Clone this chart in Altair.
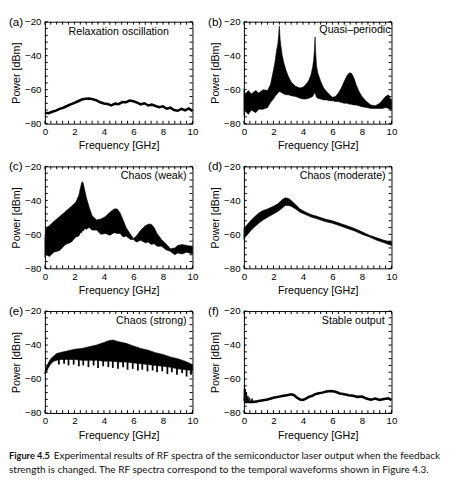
import altair as alt
import pandas as pd

# ---------------- data ----------------
A_f = [0, 0.25, 0.5, 0.75, 1.0, 1.25, 1.5, 1.75, 2.0, 2.25, 2.5, 2.75, 3.0, 3.25, 3.5, 3.75, 4.0, 4.25, 4.5, 4.75,
       5.0, 5.25, 5.5, 5.75, 6.0, 6.25, 6.5, 6.75, 7.0, 7.25, 7.5, 7.75, 8.0, 8.25, 8.5, 8.75, 9.0, 9.25, 9.5, 9.75, 10.0]
A_v = [-73.5, -73.8, -73.0, -72.3, -71.3, -70.6, -69.6, -68.6, -67.8, -66.8, -65.8, -65.3, -65.2, -65.6, -66.3, -67.4,
       -68.1, -68.4, -69.2, -68.2, -68.5, -67.2, -67.4, -66.4, -66.8, -67.6, -68.6, -68.0, -69.3, -68.8, -69.6, -70.3,
       -69.8, -71.2, -70.6, -72.0, -72.4, -71.3, -72.1, -71.0, -72.6]

B_f = [0, 0.1, 0.3, 0.5, 0.8, 1.0, 1.3, 1.6, 1.8, 2.0, 2.1, 2.2, 2.3, 2.35, 2.4, 2.45, 2.5, 2.6, 2.7, 2.85, 3.0, 3.2,
       3.5, 3.8, 4.0, 4.2, 4.4, 4.55, 4.65, 4.72, 4.78, 4.82, 4.86, 4.92, 5.0, 5.2, 5.4, 5.6, 5.8, 6.0, 6.2, 6.4, 6.6,
       6.8, 7.0, 7.15, 7.3, 7.45, 7.6, 7.8, 8.0, 8.3, 8.6, 8.9, 9.2, 9.4, 9.6, 9.8, 9.9, 10.0]
B_hi = [-59.5, -62.5, -60.5, -62.5, -60.5, -62, -60, -60.5, -57, -48.5, -44, -37.5, -33, -28, -22.5, -30, -34, -40,
        -44, -48.5, -52, -55.5, -58, -59, -58.5, -57, -54.5, -51, -47, -43, -36, -29, -38, -46, -50, -55, -59, -61,
        -63, -64.5, -64, -62, -59, -55, -51.5, -50, -50.5, -53, -57, -61, -64, -67, -69, -69.5, -68, -66, -64, -63,
        -65, -66]
B_lo = [-75, -72.5, -74.5, -72, -73.5, -71.5, -71.5, -70.5, -67.5, -65.5, -64, -63, -62, -61.5, -61, -61.2, -61.5,
        -62, -62.5, -63, -63, -63.5, -64, -65, -65.5, -65.5, -65, -64.5, -64, -63, -62, -62, -63, -64.5, -65, -65.5,
        -66, -66, -66.5, -66.5, -67, -67, -67.5, -68, -68, -68.5, -68.5, -69, -69, -69.5, -70, -70.5, -71, -71, -71,
        -71, -70.5, -71, -71.5, -72]

C_f = [0, 0.1, 0.3, 0.6, 1.0, 1.4, 1.8, 2.1, 2.3, 2.4, 2.5, 2.55, 2.6, 2.7, 2.8, 3.0, 3.2, 3.5, 3.8, 4.1, 4.4, 4.7,
       4.9, 5.1, 5.3, 5.5, 5.8, 6.0, 6.2, 6.5, 6.8, 7.0, 7.2, 7.4, 7.6, 7.9, 8.2, 8.5, 8.8, 9.0, 9.3, 9.6, 10.0]
C_hi = [-62, -56, -55, -52.5, -49.5, -46.5, -43.5, -41, -37, -33, -29.5, -29, -30, -34, -38, -44, -49, -51.5, -51,
        -49.5, -47, -45, -45, -47.5, -51.5, -56, -60, -62.5, -61, -57.5, -55, -54, -54, -56, -59.5, -63, -65.5, -68.5,
        -68, -66.5, -66, -66.5, -67]
C_lo = [-73.5, -72, -73, -70.5, -69.5, -66, -64.5, -61.5, -61, -59, -59, -57.5, -58, -56.5, -57, -56, -57.5, -57.5,
        -60, -59.5, -60.5, -59, -59.5, -59.5, -61.5, -61, -63, -63, -64.5, -63.5, -65, -64.5, -66, -65.5, -67, -67,
        -69, -70, -72, -71, -71.5, -70.5, -71.5]

D_f = [0, 0.1, 0.3, 0.5, 0.8, 1.0, 1.3, 1.6, 2.0, 2.3, 2.6, 2.8, 3.0, 3.2, 3.5, 3.8, 4.2, 4.6, 5.0, 5.5, 6.0, 6.5,
       7.0, 7.5, 8.0, 8.5, 9.0, 9.5, 10.0]
D_hi = [-57, -55.5, -53.5, -51.5, -49, -47.5, -46, -45, -43.5, -42, -39.5, -38.5, -38.8, -40, -42.5, -45, -47, -48.5,
        -49.5, -51, -52, -53.5, -55, -56.5, -58.5, -60.5, -62, -63.5, -64.5]
D_lo = [-63, -61.5, -59.5, -57.5, -55, -53.5, -51.5, -50, -48, -46.5, -44.5, -43, -43, -43.5, -45, -47, -48.5, -50,
        -51, -52.5, -53.5, -55, -56.5, -58, -60, -61.5, -63.5, -65, -66.5]

E_f = [0, 0.1, 0.2, 0.4, 0.6, 0.8, 1.0, 1.5, 2.0, 2.5, 3.0, 3.5, 4.0, 4.3, 4.6, 5.0, 5.5, 6.0, 6.5, 7.0, 7.5, 8.0,
       8.5, 9.0, 9.5, 10.0]
E_hi = [-56, -53, -51, -48, -46.5, -45, -44.5, -43.5, -42.5, -42, -41, -40, -38.5, -37.5, -37, -38, -39, -40.5, -42,
        -43, -44.5, -45.5, -47, -48, -49.5, -51.5]
E_lo = [-57, -56, -54, -51, -49.5, -49, -48.5, -48.5, -48.5, -49, -49, -49, -49.5, -49.5, -49.5, -50, -50, -50.5, -51,
        -51.5, -52, -52.5, -53, -54, -54.5, -55]
E_spike_f = [0.95, 1.3, 1.6, 1.95, 2.3, 2.6, 2.95, 3.3, 3.6, 3.95, 4.3, 4.6, 4.95, 5.3, 5.6, 5.95, 6.3, 6.6, 6.95,
             7.3, 7.6, 7.95, 8.3, 8.6, 8.95, 9.3, 9.6, 9.9]
E_spike_top = [-46, -46, -46, -46, -46.5, -46.5, -46.5, -46.5, -46.5, -47, -47, -47, -47, -47.5, -47.5, -47.5, -48,
               -48, -48.5, -49, -49, -49.5, -50, -50, -51, -51.5, -52, -52]
E_spike_bot = [-51.5, -51, -52, -51.5, -52.5, -52, -53, -52, -53.5, -52.5, -53, -53.5, -54, -53, -54.5, -54, -55,
               -54.5, -55.5, -55, -56, -55.5, -57, -56, -57.5, -56.5, -58.5, -57.5]

F_f = [0, 0.3, 0.6, 0.8, 1.0, 1.3, 1.6, 2.0, 2.3, 2.6, 2.9, 3.2, 3.4, 3.6, 3.8, 4.0, 4.2, 4.4, 4.6, 4.8, 5.0, 5.3,
       5.6, 5.9, 6.2, 6.5, 6.8, 7.1, 7.4, 7.7, 8.0, 8.3, 8.6, 8.9, 9.2, 9.5, 9.8, 10.0]
F_v = [-73.5, -73.5, -73.5, -73.3, -73, -72.5, -72, -71, -70.5, -70, -69.5, -69, -69.5, -71, -72, -72.3, -71.5, -70.5,
       -70, -69, -68.5, -68, -67.3, -67, -67.5, -68.5, -69, -69.5, -69.8, -70.5, -70.3, -71.5, -72.2, -71.5, -72.3,
       -71.8, -71.3, -72.5]
F_spike_f = [0, 0.04, 0.07, 0.1, 0.14, 0.18, 0.22, 0.27, 0.32, 0.38, 0.45, 0.5, 0.55, 0.6]
F_spike_v = [-73, -63, -73.5, -66, -73.5, -68, -73.5, -70, -73.5, -71, -73.5, -73.5, -71.5, -73.5]

X_TICKS = [0, 0.4, 0.8, 1.2, 1.6, 2, 2.4, 2.8, 3.2, 3.6, 4, 4.4, 4.8, 5.2, 5.6, 6, 6.4, 6.8, 7.2, 7.6, 8, 8.4, 8.8,
           9.2, 9.6, 10]
X_MAJOR = [0, 2, 4, 6, 8, 10]
Y_TICKS = [-80, -76, -72, -68, -64, -60, -56, -52, -48, -44, -40, -36, -32, -28, -24, -20]
Y_MAJOR = [-80, -60, -40, -20]

CAPTION_BOLD = "Figure 4.5"
CAPTION_1 = "Experimental results of RF spectra of the semiconductor laser output when the feedback"
CAPTION_2 = "strength is changed. The RF spectra correspond to the temporal waveforms shown in Figure 4.3."

# ---------------- layout ----------------
W, H = 152, 105
FONT = "Liberation Sans"
LX = -37  # left offset of the panel letters relative to the plot area

XAX = alt.Axis(values=X_MAJOR, title="Frequency [GHz]", ticks=False, domain=False, grid=False,
               labelPadding=3, titlePadding=4, labelFlush=False)
YAX = alt.Axis(values=Y_MAJOR, title="Power [dBm]", ticks=False, domain=False, grid=False,
               labelPadding=4, titlePadding=3, labelFlush=False)
XS = alt.Scale(domain=[0, 10], nice=False)
YS = alt.Scale(domain=[-80, -20], nice=False)


def xe(field):
    return alt.X(field, type="quantitative", scale=XS, axis=XAX)


def ye(field):
    return alt.Y(field, type="quantitative", scale=YS, axis=YAX)


def tick_layers():
    xt = pd.DataFrame({"t": X_TICKS})
    yt = pd.DataFrame({"t": Y_TICKS})
    style = dict(color="black", strokeWidth=1)
    bottom = alt.Chart(xt).mark_rule(**style).encode(x=xe("t"), y=alt.value(H), y2=alt.value(H - 3))
    top = alt.Chart(xt).mark_rule(**style).encode(x=xe("t"), y=alt.value(0), y2=alt.value(3))
    left = alt.Chart(yt).mark_rule(**style).encode(y=ye("t"), x=alt.value(0), x2=alt.value(3))
    right = alt.Chart(yt).mark_rule(**style).encode(y=ye("t"), x=alt.value(W), x2=alt.value(W - 3))
    return [bottom, top, left, right]


def texts(label, ann, ann_x, ann_align, ann_y):
    lab = alt.Chart(pd.DataFrame({"s": [label]})).mark_text(
        font=FONT, fontSize=12, align="left", baseline="middle", color="black"
    ).encode(text="s:N", x=alt.value(LX), y=alt.value(0))
    an = alt.Chart(pd.DataFrame({"s": [ann]})).mark_text(
        font=FONT, fontSize=11, align=ann_align, baseline="middle", color="black"
    ).encode(text="s:N", x=alt.value(ann_x), y=alt.value(ann_y))
    return [lab, an]


def band_panel(f, lo, hi, label, ann, ann_x, ann_align, ann_y, spikes=None):
    df = pd.DataFrame({"f": f, "lo": lo, "hi": hi})
    band = alt.Chart(df).mark_area(color="black", stroke="black", strokeWidth=0.6).encode(
        x=xe("f"), y=ye("lo"), y2="hi")
    layers = [band]
    if spikes is not None:
        sdf = pd.DataFrame({"f": spikes[0], "top": spikes[1], "bot": spikes[2]})
        layers.append(alt.Chart(sdf).mark_rule(color="black", strokeWidth=1.8).encode(
            x=xe("f"), y=ye("top"), y2="bot"))
    return alt.layer(*layers, *tick_layers(), *texts(label, ann, ann_x, ann_align, ann_y)).properties(width=W, height=H)


def line_panel(f, v, label, ann, ann_x, ann_align, ann_y, extra=None):
    df = pd.DataFrame({"f": f, "v": v})
    line = alt.Chart(df).mark_line(color="black", strokeWidth=2.6).encode(x=xe("f"), y=ye("v"))
    layers = [line]
    if extra is not None:
        sdf = pd.DataFrame({"f": extra[0], "v": extra[1]})
        layers.append(alt.Chart(sdf).mark_line(color="black", strokeWidth=1).encode(x=xe("f"), y=ye("v")))
    return alt.layer(*layers, *tick_layers(), *texts(label, ann, ann_x, ann_align, ann_y)).properties(width=W, height=H)


pa = line_panel(A_f, A_v, "(a)", "Relaxation oscillation", W / 2, "center", 11)
pb = band_panel(B_f, B_lo, B_hi, "(b)", "Quasi\u2013periodic", W - 1, "right", 9)
pc = band_panel(C_f, C_lo, C_hi, "(c)", "Chaos (weak)", W - 6, "right", 10)
pd_ = band_panel(D_f, D_lo, D_hi, "(d)", "Chaos (moderate)", W - 6, "right", 10)
pe = band_panel(E_f, E_lo, E_hi, "(e)", "Chaos (strong)", W - 6, "right", 10,
                spikes=(E_spike_f, E_spike_top, E_spike_bot))
pf = line_panel(F_f, F_v, "(f)", "Stable output", W - 7, "right", 10, extra=(F_spike_f, F_spike_v))

CAP_FONT = "Lato"
cap_bold = alt.Chart(pd.DataFrame({"s": [CAPTION_BOLD]})).mark_text(
    font=CAP_FONT, fontSize=9.5, fontWeight="bold", align="left", baseline="middle", color="#111"
).encode(text="s:N", x=alt.value(LX), y=alt.value(7))
cap_1 = alt.Chart(pd.DataFrame({"s": [CAPTION_1]})).mark_text(
    font=CAP_FONT, fontSize=10.3, align="left", baseline="middle", color="#111"
).encode(text="s:N", x=alt.value(LX + 46), y=alt.value(7))
cap_2 = alt.Chart(pd.DataFrame({"s": [CAPTION_2]})).mark_text(
    font=CAP_FONT, fontSize=10.3, align="left", baseline="middle", color="#111"
).encode(text="s:N", x=alt.value(LX), y=alt.value(22))
caption = alt.layer(cap_bold, cap_1, cap_2).properties(width=300, height=30, view=alt.ViewConfig(stroke=None))

row1 = alt.hconcat(pa, pb, spacing=8)
row2 = alt.hconcat(pc, pd_, spacing=8)
row3 = alt.hconcat(pe, pf, spacing=8)

chart = alt.vconcat(row1, row2, row3, caption, spacing=8).properties(
    padding={"left": 0, "top": 0, "right": 0, "bottom": 0}
).configure(background="white").configure_view(stroke="black", strokeWidth=1).configure_axis(
    labelFont=FONT, labelFontSize=10, labelColor="black",
    titleFont=FONT, titleFontSize=11, titleFontWeight="normal", titleColor="black"
)

chart.save("out.html", embed_options={"renderer": "svg", "actions": False})
